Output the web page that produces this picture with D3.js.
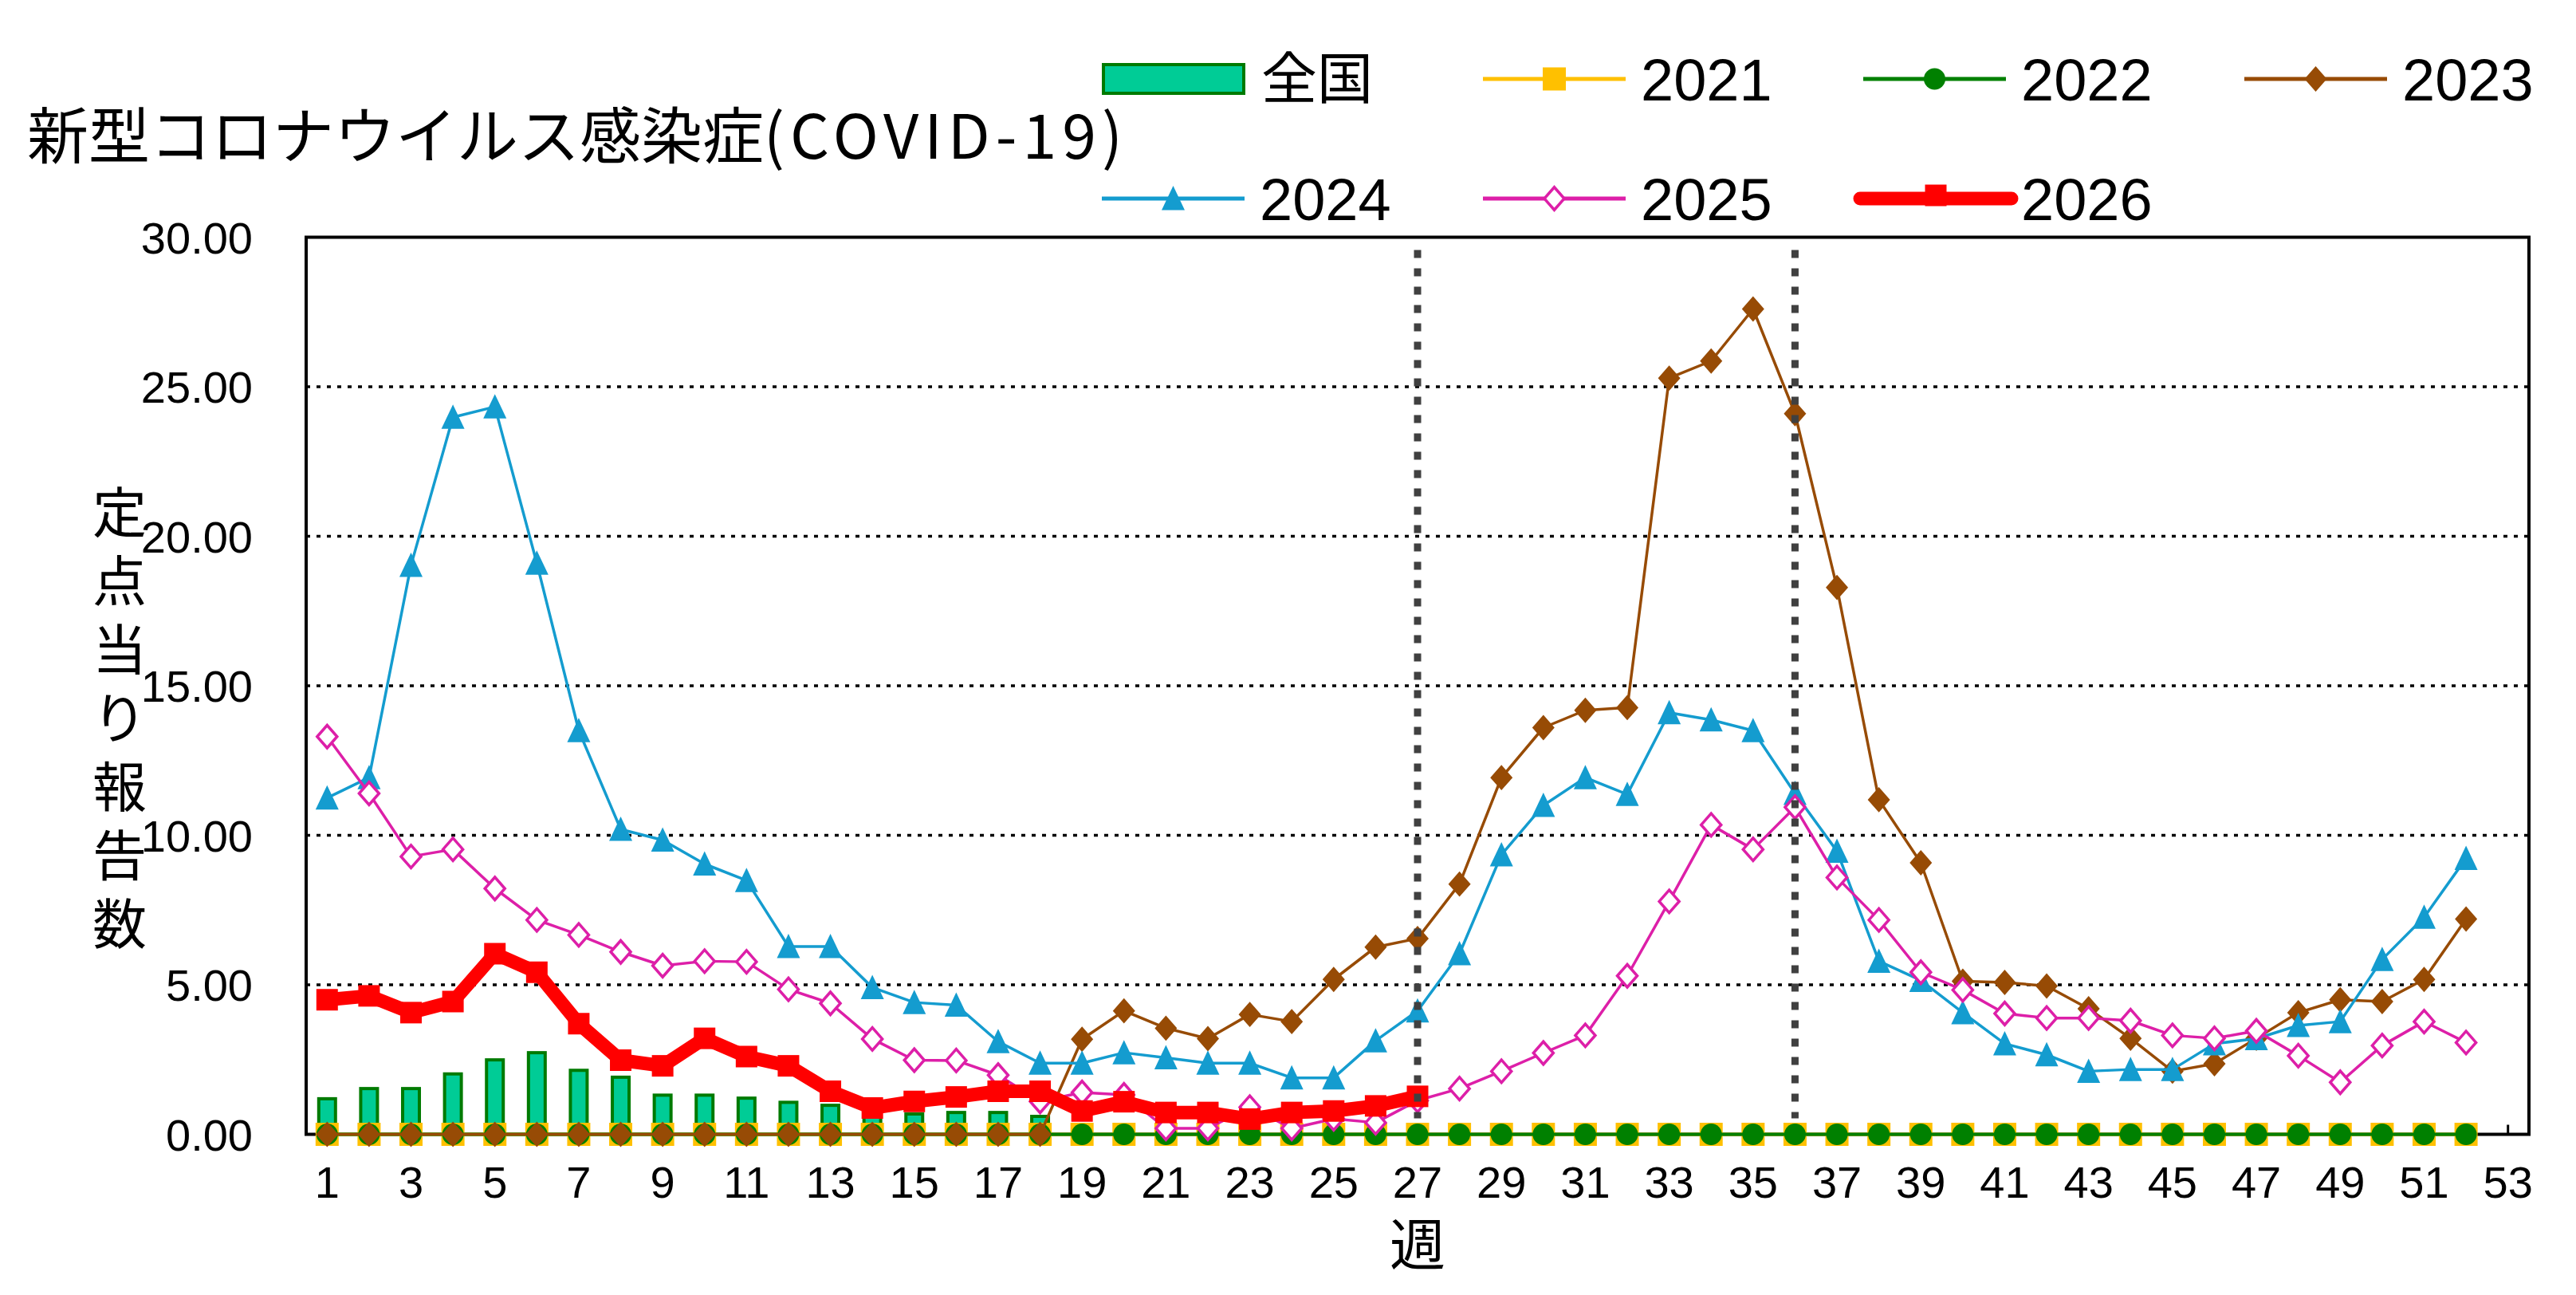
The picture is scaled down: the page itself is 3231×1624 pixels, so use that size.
<!DOCTYPE html>
<html>
<head>
<meta charset="utf-8">
<script src="https://cdn.jsdelivr.net/npm/d3@7/dist/d3.min.js"></script>
<style>
  body { margin: 0; background: #fff; }
  svg text { font-family: "Liberation Sans", Arial, sans-serif; fill: #000; }
  svg text.jp { font-family: "Noto Sans CJK JP", sans-serif; }
</style>
</head>
<body>
<script>
// 週 (categories)
const weeks = [1,2,3,4,5,6,7,8,9,10,11,12,13,14,15,16,17,18,19,20,21,22,23,24,25,26,
    27,28,29,30,31,32,33,34,35,36,37,38,39,40,41,42,43,44,45,46,47,48,49,50,51,52,53]
const weekTicks = [1,3,5,7,9,11,13,15,17,19,21,23,25,27,29,31,33,35,37,39,41,43,45,47,49,51,53]
const yTicks = [0, 5, 10, 15, 20, 25, 30]
const markWeeks = [27, 36]

// 全国
const national = [1.19,1.53,1.53,2.02,2.49,2.73,2.14,1.91,1.31,1.31,1.21,1.07,0.97,0.80,0.68,0.73,0.73,0.60,
    null,null,null,null,null,null,null,null,null,null,null,null,null,null,null,null,null,null,
    null,null,null,null,null,null,null,null,null,null,null,null,null,null,null,null]
const y2021 = [0,0,0,0,0,0,0,0,0,0,0,0,0,0,0,0,0,0,0,0,0,0,0,0,0,0,
    0,0,0,0,0,0,0,0,0,0,0,0,0,0,0,0,0,0,0,0,0,0,0,0,0,0]
const y2022 = [0,0,0,0,0,0,0,0,0,0,0,0,0,0,0,0,0,0,0,0,0,0,0,0,0,0,
    0,0,0,0,0,0,0,0,0,0,0,0,0,0,0,0,0,0,0,0,0,0,0,0,0,0]
const y2023 = [0,0,0,0,0,0,0,0,0,0,0,0,0,0,0,0,0,0,3.18,4.13,3.55,3.2,4.01,3.77,5.18,6.26,
    6.55,8.37,11.93,13.6,14.18,14.27,25.29,25.86,27.6,24.1,18.29,11.19,9.08,5.12,5.08,4.96,4.2,3.21,2.11,2.36,3.21,4.07,4.5,4.44,5.18,7.2]
const y2024 = [11.25,11.93,19.03,23.98,24.33,19.1,13.5,10.2,9.84,9.04,8.49,6.28,6.28,4.91,4.41,4.32,3.1,2.38,2.38,2.73,2.56,2.38,2.38,1.89,1.89,3.13,
    4.13,6.04,9.35,11.0,11.93,11.37,14.1,13.86,13.5,11.4,9.47,5.79,5.15,4.07,3.03,2.66,2.11,2.17,2.17,3.03,3.2,3.64,3.77,5.85,7.26,9.23]
const y2025 = [13.3,11.4,9.29,9.53,8.22,7.17,6.67,6.1,5.64,5.79,5.77,4.85,4.38,3.19,2.48,2.47,1.98,1.1,1.4,1.32,0.2,0.2,0.91,0.2,0.52,0.39,
    1.13,1.53,2.11,2.72,3.31,5.3,7.79,10.35,9.53,10.94,8.59,7.17,5.42,4.83,4.04,3.89,3.89,3.8,3.31,3.21,3.46,2.63,1.74,2.97,3.77,3.07]
const y2026 = [4.5,4.63,4.07,4.44,6.04,5.42,3.7,2.48,2.29,3.21,2.6,2.29,1.44,0.88,1.1,1.25,1.44,1.44,0.78,1.09,0.73,0.73,0.51,0.73,0.78,0.95,1.27]

const titleJp = '新型コロナウイルス感染症'
const titleEn = '(COVID-19)'
const yTitle = '定点当り報告数'
const xTitle = '週'

// marker shapes
const shapes = {
    square: s => `M${-s/2},${-s/2}h${s}v${s}h${-s}Z`,
    circle: s => `M${-s/2},0a${s/2},${s/2} 0 1,0 ${s},0a${s/2},${s/2} 0 1,0 ${-s},0Z`,
    diamond: s => `M0,${-s*0.57}L${s/2},0L0,${s*0.57}L${-s/2},0Z`,
    triangle: s => `M0,${-s*0.55}L${s/2},${s*0.5}L${-s/2},${s*0.5}Z`
}

const series = [
    {name: '2021', values: y2021, color: '#FFC000', width: 4, shape: 'square', size: 29, fill: '#FFC000'},
    {name: '2022', values: y2022, color: '#008000', width: 4, shape: 'circle', size: 27, fill: '#008000'},
    {name: '2023', values: y2023, color: '#974B05', width: 3.5, shape: 'diamond', size: 28, fill: '#974B05'},
    {name: '2024', values: y2024, color: '#149CCF', width: 3.5, shape: 'triangle', size: 29, fill: '#149CCF'},
    {name: '2025', values: y2025, color: '#DD1FA8', width: 3.5, shape: 'diamond', size: 25, fill: '#fff', open: true},
    {name: '2026', values: y2026, color: '#FF0000', width: 17, shape: 'square', size: 27, fill: '#FF0000'}
]

{
    let width = 3231
    let height = 1624
    let svg = d3.select('body').append('svg')
    svg.attr('width', width)
        .attr('height', height)

    let left = 384, right = 3172, top = 297.5, bottom = 1422.5

    let x = d3.scaleBand().domain(weeks).range([left, right]).padding(0)
    let cx = w => x(w) + x.bandwidth() / 2
    let y = d3.scaleLinear().domain([0, 30]).range([bottom, top])

    // grid
    svg.append('g').selectAll('line').data(yTicks.filter(d => d > 0 && d < 30))
        .enter().append('line')
        .attr('x1', left).attr('x2', right)
        .attr('y1', d => y(d)).attr('y2', d => y(d))
        .attr('stroke', '#000').attr('stroke-width', 3.5)
        .attr('stroke-dasharray', '5 8')

    // y axis labels
    svg.append('g').selectAll('text').data(yTicks)
        .enter().append('text')
        .attr('x', 317).attr('y', d => y(d) + 20)
        .attr('text-anchor', 'end')
        .attr('font-size', 56)
        .text(d => d.toFixed(2))

    // x axis labels
    svg.append('g').selectAll('text').data(weekTicks)
        .enter().append('text')
        .attr('x', d => cx(d)).attr('y', 1502)
        .attr('text-anchor', 'middle')
        .attr('font-size', 56)
        .text(d => d)

    // frame + axis
    svg.append('rect')
        .attr('x', left).attr('y', top)
        .attr('width', right - left).attr('height', bottom - top)
        .attr('fill', 'none').attr('stroke', '#000').attr('stroke-width', 4)
    svg.append('g').selectAll('line').data(weekTicks)
        .enter().append('line')
        .attr('x1', d => cx(d)).attr('x2', d => cx(d))
        .attr('y1', bottom).attr('y2', bottom - 12)
        .attr('stroke', '#000').attr('stroke-width', 3)

    // 全国 bars
    let bw = 21
    svg.append('g').selectAll('rect').data(national.map((v, i) => ({w: weeks[i], v})).filter(d => d.v != null))
        .enter().append('rect')
        .attr('x', d => cx(d.w) - bw / 2)
        .attr('y', d => y(d.v))
        .attr('width', bw)
        .attr('height', d => y(0) - y(d.v))
        .attr('fill', '#00CC96')
        .attr('stroke', '#007A00')
        .attr('stroke-width', 4)

    // lines + markers
    series.forEach(s => {
        let pts = s.values.map((v, i) => ({w: weeks[i], v}))
        let line = d3.line().x(d => cx(d.w)).y(d => y(d.v))
        let g = svg.append('g')
        g.append('path')
            .attr('d', line(pts))
            .attr('fill', 'none')
            .attr('stroke', s.color)
            .attr('stroke-width', s.width)
            .attr('stroke-linejoin', 'round')
            .attr('stroke-linecap', 'round')
        g.selectAll('path.m').data(pts)
            .enter().append('path')
            .attr('class', 'm')
            .attr('d', shapes[s.shape](s.size))
            .attr('transform', d => `translate(${cx(d.w)},${y(d.v)})`)
            .attr('fill', s.fill)
            .attr('stroke', s.open ? s.color : 'none')
            .attr('stroke-width', s.open ? 3.5 : 0)
    })

    // vertical marker lines
    svg.append('g').selectAll('line').data(markWeeks)
        .enter().append('line')
        .attr('x1', d => cx(d)).attr('x2', d => cx(d))
        .attr('y1', top + 16).attr('y2', bottom - 20)
        .attr('stroke', '#404040').attr('stroke-width', 9)
        .attr('stroke-dasharray', '10 13')

    // titles
    let t = svg.append('text').attr('class', 'jp')
        .attr('x', 34).attr('y', 199)
        .attr('font-size', 77)
    t.append('tspan').text(titleJp)
    t.append('tspan').attr('letter-spacing', 7).text(titleEn)

    svg.append('text').attr('class', 'jp')
        .attr('x', cx(27)).attr('y', 1587)
        .attr('text-anchor', 'middle')
        .attr('font-size', 70)
        .text(xTitle)

    svg.append('text').attr('class', 'jp')
        .attr('font-size', 68)
        .attr('text-anchor', 'middle')
        .selectAll('tspan').data(yTitle.split(''))
        .enter().append('tspan')
        .attr('x', 150)
        .attr('y', (d, i) => 668 + i * 86)
        .text(d => d)

    // legend
    let lg = svg.append('g')
    let cols = [1382, 1860, 2337, 2815]
    let rows = [99, 249]
    let items = [{name: '全国', bar: true}].concat(series)
    items.forEach((s, i) => {
        let lx = cols[i % 4], ly = rows[Math.floor(i / 4)]
        if (s.bar) {
            lg.append('rect')
                .attr('x', lx + 2).attr('y', ly - 18)
                .attr('width', 176).attr('height', 36)
                .attr('fill', '#00CC96').attr('stroke', '#007A00').attr('stroke-width', 4)
            lg.append('text').attr('class', 'jp')
                .attr('x', lx + 200).attr('y', ly + 25)
                .attr('font-size', 70)
                .text(s.name)
            return
        }
        let x1 = s.name === '2026' ? lx - 4 : lx
        let x2 = s.name === '2026' ? lx + 186 : lx + 179
        lg.append('line')
            .attr('x1', x1).attr('x2', x2)
            .attr('y1', ly).attr('y2', ly)
            .attr('stroke', s.color)
            .attr('stroke-width', s.name === '2026' ? 17 : 5)
            .attr('stroke-linecap', s.name === '2026' ? 'round' : 'butt')
        lg.append('path')
            .attr('d', shapes[s.shape](s.size))
            .attr('transform', `translate(${(x1 + x2) / 2},${s.name === '2026' ? ly - 4 : ly})`)
            .attr('fill', s.fill)
            .attr('stroke', s.open ? s.color : 'none')
            .attr('stroke-width', s.open ? 3.5 : 0)
        lg.append('text')
            .attr('x', lx + 198).attr('y', ly + 27)
            .attr('font-size', 74)
            .text(s.name)
    })
}
</script>
</body>
</html>
